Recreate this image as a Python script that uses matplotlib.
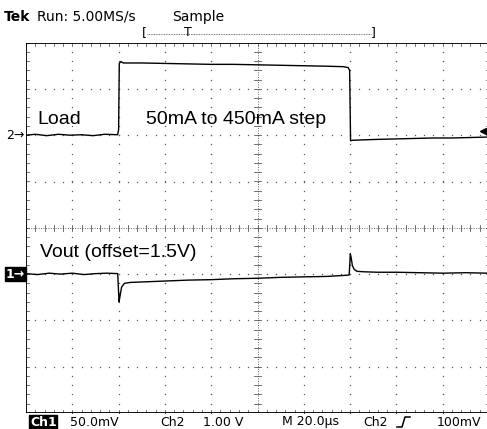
import matplotlib
matplotlib.use("Agg")
import matplotlib.pyplot as plt
import numpy as np

# scope settings
DIV_T = 20.0        # us per division
CH1_SCALE = 50.0    # mV per division
CH2_SCALE = 1.0     # V per division
CH1_POS = -1.0      # ground marker, divisions
CH2_POS = 2.0
TRIG_LEVEL = 0.1    # V on ch2

# Ch2: load step, volts relative to ch2 ground
load_t = [0, 4, 9, 14, 19, 24, 29, 34, 39.6, 40.0, 40.3, 41.0, 42, 50, 60, 70, 80, 90,
          100, 110, 120, 130, 137, 139.2, 139.8, 140.2, 141, 146, 152, 160, 168, 176,
          184, 192, 199.5]
load_v = [0.0, 0.02, -0.01, 0.02, 0.0, 0.01, -0.01, 0.02, 0.01, 0.12, 1.55, 1.59, 1.56,
          1.56, 1.55, 1.54, 1.53, 1.53, 1.52, 1.51, 1.50, 1.49, 1.48, 1.46, 1.40, -0.12,
          -0.11, -0.10, -0.09, -0.08, -0.07, -0.06, -0.06, -0.05, -0.04]

# Ch1: output voltage, mV relative to ch1 ground (offset 1.5 V)
vout_t = [0, 5, 10, 15, 20, 25, 30, 35, 39.6, 40.2, 40.6, 41.3, 42.5, 45, 50, 60, 70,
          80, 90, 100, 110, 120, 130, 137, 139.6, 140.1, 140.5, 141.0, 141.8, 143,
          146, 152, 160, 170, 180, 190, 199.5]
vout_mv = [0.5, -0.5, 1.0, 0.0, 1.0, -0.5, 0.5, 1.0, 0.5, -30.0, -24.0, -14.0, -10.0,
           -9.0, -8.5, -7.5, -6.5, -6.0, -5.0, -4.5, -3.5, -3.0, -2.5, -1.5, -1.0,
           22.0, 17.0, 9.0, 5.0, 3.0, 2.5, 2.0, 2.0, 1.5, 1.0, 1.5, 1.0]

W, H = 487, 429
fig = plt.figure(figsize=(W / 100, H / 100), dpi=100)
fig.patch.set_facecolor("white")

# screen area in pixels
x0, y0, px_div = 26.0, 42.6, 46.3
ax = fig.add_axes([x0 / W, 1 - (y0 + 8 * px_div) / H, 10 * px_div / W, 8 * px_div / H])
ax.set_xlim(0, 10)
ax.set_ylim(-4, 4)
ax.axis("off")

# graticule
minor = np.arange(0, 10.01, 0.2)
minor_y = np.arange(-4, 4.01, 0.2)
for gx in range(1, 10):
    if gx == 5:
        continue
    ax.plot([gx] * len(minor_y), minor_y, ls="none", marker="s", ms=0.9,
            color="0.35", mew=0)
for gy in range(-3, 4):
    if gy == 0:
        continue
    ax.plot(minor, [gy] * len(minor), ls="none", marker="s", ms=0.9,
            color="0.35", mew=0)
ax.plot([5, 5], [-4, 4], ls=(0, (1, 1.5)), lw=0.7, color="0.4")
ax.plot([0, 10], [0, 0], ls=(0, (1, 1.5)), lw=0.7, color="0.4")
tk = 0.07
for m in minor:
    ax.plot([m, m], [-tk, tk], lw=0.6, color="0.35")
    ax.plot([m, m], [4, 4 - tk], lw=0.6, color="0.35")
    ax.plot([m, m], [-4, -4 + tk], lw=0.6, color="0.35")
for m in minor_y:
    ax.plot([5 - tk, 5 + tk], [m, m], lw=0.6, color="0.35")
    ax.plot([0, tk], [m, m], lw=0.6, color="0.35")
    ax.plot([10, 10 - tk], [m, m], lw=0.6, color="0.35")
ax.plot([0, 0, 10, 10, 0], [-4, 4, 4, -4, -4], lw=1.3, color="black",
        solid_joinstyle="miter")

# traces
lt = np.array(load_t) / DIV_T
lv = CH2_POS + np.array(load_v) / CH2_SCALE
ax.plot(lt, lv, color="black", lw=1.0)
vt = np.array(vout_t) / DIV_T
vv = CH1_POS + np.array(vout_mv) / CH1_SCALE
ax.plot(vt, vv, color="black", lw=1.0)

# in-screen labels
lab = dict(family="Liberation Sans", fontsize=14, color="black", va="center")
ax.text(0.24, 2.33, "Load", **lab)
ax.text(2.6, 2.33, "50mA to 450mA step", **lab)
ax.text(0.30, -0.53, "Vout (offset=1.5V)", **lab)

# trigger level marker
ax.plot([9.87], [CH2_POS + TRIG_LEVEL / CH2_SCALE], marker="<", ms=5,
        color="black", clip_on=False)

# overlay in pixel coordinates for the status text
ov = fig.add_axes([0, 0, 1, 1], facecolor="none")
ov.set_xlim(0, W)
ov.set_ylim(H, 0)
ov.axis("off")

st = dict(family="DejaVu Sans", fontsize=9, color="black", va="center")
top = dict(family="DejaVu Sans", fontsize=10, color="black", va="center")
ov.text(4, 17, "Tek", fontweight="bold", **top)
ov.text(37, 17, "Run: 5.00MS/s", **top)
ov.text(172, 17, "Sample", **top)

ov.text(142, 33, "[", **st)
ov.text(371, 33, "]", **st)
ov.plot([147, 371], [33.5, 33.5], ls=(0, (1, 1)), lw=0.6, color="0.3")
ov.text(188, 32, "T", ha="center", **st)

ov.text(30, 422, "Ch1", color="white", family="DejaVu Sans", fontsize=9,
        va="center", fontweight="bold",
        bbox=dict(boxstyle="square,pad=0.05", fc="black", ec="black"))
ov.text(70, 422, "50.0mV", **st)
ov.text(160, 422, "Ch2", **st)
ov.text(203, 422, "1.00 V", **st)
ov.text(282, 422, "M 20.0\u00b5s", **st)
ov.text(363, 422, "Ch2", **st)
ov.plot([397, 402, 405, 410], [427, 427, 417, 417], color="black", lw=1.1)
ov.text(437, 422, "100mV", **st)

# channel ground markers
ch2_y = y0 + (4 - CH2_POS) * px_div
ch1_y = y0 + (4 - CH1_POS) * px_div
ov.text(6, ch2_y, "2\u2192", family="DejaVu Sans", fontsize=9, va="center")
ov.text(6, ch1_y, "1\u2192", family="DejaVu Sans", fontsize=9, va="center",
        color="white", fontweight="bold",
        bbox=dict(boxstyle="square,pad=0.05", fc="black", ec="black"))

fig.savefig("out.png", dpi=100, facecolor="white")
